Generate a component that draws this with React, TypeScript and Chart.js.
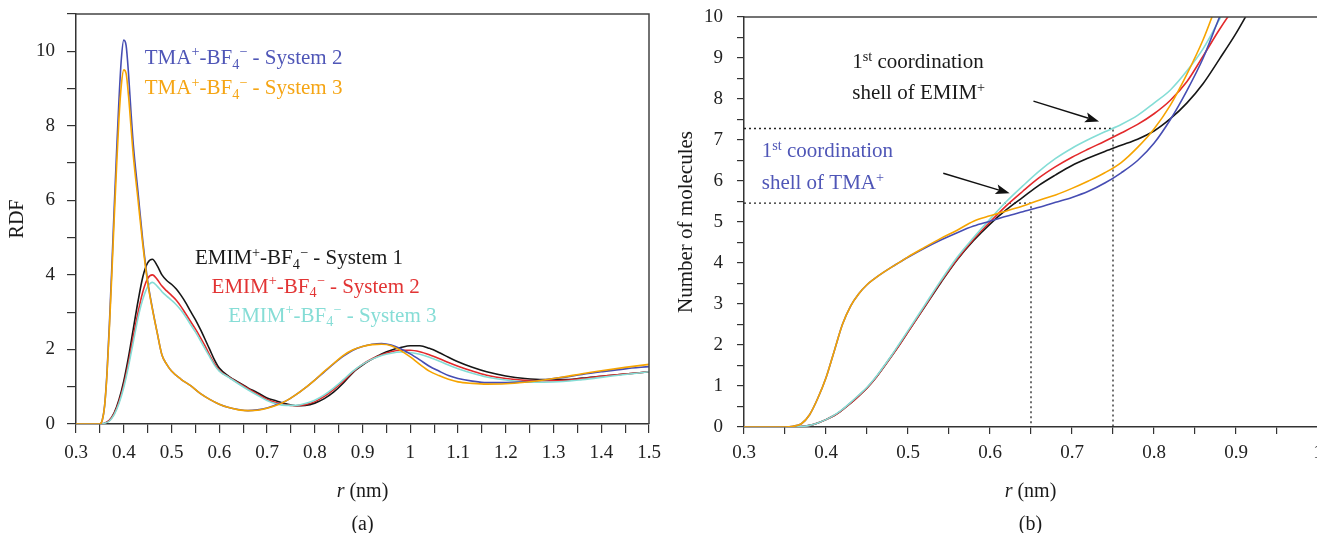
import React, { useEffect, useRef } from 'react';
import { Chart, registerables } from 'chart.js';

Chart.register(...registerables);

const SERIF = '"Liberation Serif", "Times New Roman", "DejaVu Serif", serif';

// ---------------- Panel (a): RDF ----------------
const rTma = [0.30, 0.35, 0.355, 0.36, 0.365, 0.37, 0.375, 0.38, 0.385, 0.39,
  0.395, 0.40, 0.405, 0.41, 0.415, 0.42, 0.43, 0.44, 0.45, 0.46,
  0.47, 0.48, 0.49, 0.50, 0.52, 0.54, 0.56, 0.58, 0.60, 0.62,
  0.64, 0.66, 0.68, 0.70, 0.72, 0.74, 0.76, 0.78, 0.80, 0.82,
  0.84, 0.86, 0.88, 0.90, 0.92, 0.94, 0.96, 0.98, 1.00, 1.02,
  1.04, 1.06, 1.08, 1.10, 1.13, 1.16, 1.20, 1.24, 1.28, 1.32,
  1.36, 1.40, 1.45, 1.50];
const rdfTmaSystem2 = [0, 0, 0.1, 0.5, 1.4, 2.7, 4.2, 5.8, 7.3, 8.7,
  9.8, 10.3, 10.15, 9.4, 8.4, 7.5, 6.2, 4.9, 3.85, 3.1,
  2.45, 1.85, 1.6, 1.42, 1.2, 1.03, 0.82, 0.66, 0.53, 0.44,
  0.39, 0.36, 0.38, 0.43, 0.52, 0.62, 0.78, 0.97, 1.18, 1.4,
  1.62, 1.82, 1.98, 2.08, 2.14, 2.16, 2.12, 2.02, 1.88, 1.72,
  1.55, 1.42, 1.3, 1.22, 1.15, 1.11, 1.11, 1.13, 1.18, 1.25,
  1.33, 1.4, 1.48, 1.54];
const rdfTmaSystem3 = [0, 0, 0.1, 0.5, 1.35, 2.6, 4.0, 5.5, 6.9, 8.2,
  9.1, 9.5, 9.4, 8.8, 8.0, 7.2, 6.0, 4.8, 3.8, 3.08,
  2.45, 1.85, 1.6, 1.42, 1.2, 1.03, 0.82, 0.66, 0.53, 0.44,
  0.38, 0.36, 0.37, 0.42, 0.5, 0.62, 0.78, 0.97, 1.18, 1.41,
  1.63, 1.84, 1.99, 2.08, 2.13, 2.14, 2.1, 1.97, 1.8, 1.6,
  1.42, 1.3, 1.2, 1.13, 1.09, 1.07, 1.08, 1.12, 1.18, 1.26,
  1.35, 1.43, 1.52, 1.6];

const rEmim = [0.30, 0.355, 0.36, 0.37, 0.38, 0.39, 0.40, 0.41, 0.42, 0.43,
  0.44, 0.45, 0.46, 0.47, 0.48, 0.49, 0.50, 0.51, 0.52, 0.53,
  0.54, 0.55, 0.56, 0.57, 0.58, 0.59, 0.60, 0.62, 0.64, 0.66,
  0.68, 0.70, 0.72, 0.74, 0.76, 0.78, 0.80, 0.82, 0.84, 0.86,
  0.88, 0.90, 0.92, 0.94, 0.96, 0.98, 1.00, 1.02, 1.04, 1.06,
  1.08, 1.10, 1.13, 1.16, 1.20, 1.24, 1.28, 1.32, 1.36, 1.40,
  1.45, 1.50];
const rdfEmimSystem1 = [0, 0, 0.02, 0.1, 0.3, 0.65, 1.15, 1.8, 2.55, 3.3,
  3.95, 4.32, 4.42, 4.25, 4.0, 3.85, 3.75, 3.62, 3.45, 3.25,
  3.02, 2.8, 2.55, 2.28, 2.0, 1.72, 1.5, 1.28, 1.12, 0.97,
  0.84, 0.7, 0.62, 0.54, 0.49, 0.5, 0.56, 0.68, 0.86, 1.1,
  1.38, 1.58, 1.74, 1.88, 1.98, 2.05, 2.1, 2.1, 2.03, 1.92,
  1.79, 1.67, 1.52, 1.4, 1.29, 1.22, 1.19, 1.19, 1.23, 1.28,
  1.34, 1.4];
const rdfEmimSystem2 = [0, 0, 0.02, 0.1, 0.28, 0.6, 1.05, 1.65, 2.35, 3.0,
  3.55, 3.9, 4.0, 3.88, 3.7, 3.57, 3.45, 3.32, 3.15, 2.95,
  2.75, 2.55, 2.33, 2.1, 1.85, 1.62, 1.44, 1.26, 1.1, 0.95,
  0.8, 0.66, 0.57, 0.51, 0.49, 0.52, 0.6, 0.74, 0.93, 1.15,
  1.4, 1.6, 1.75, 1.86, 1.94, 1.98, 1.98, 1.94, 1.86, 1.76,
  1.65, 1.55, 1.42, 1.31, 1.22, 1.17, 1.16, 1.17, 1.22, 1.28,
  1.34, 1.4];
const rdfEmimSystem3 = [0, 0, 0.02, 0.08, 0.25, 0.55, 0.98, 1.55, 2.2, 2.85,
  3.35, 3.68, 3.8, 3.7, 3.55, 3.43, 3.32, 3.2, 3.05, 2.87,
  2.67, 2.47, 2.25, 2.02, 1.8, 1.58, 1.42, 1.25, 1.08, 0.92,
  0.77, 0.63, 0.54, 0.5, 0.5, 0.55, 0.64, 0.78, 0.97, 1.19,
  1.42, 1.6, 1.74, 1.84, 1.9, 1.93, 1.92, 1.87, 1.79, 1.69,
  1.58, 1.48, 1.36, 1.26, 1.18, 1.13, 1.12, 1.14, 1.19, 1.25,
  1.33, 1.4];

// ---------------- Panel (b): number of molecules ----------------
const rCn = [0.30, 0.35, 0.36, 0.37, 0.38, 0.39, 0.40, 0.41, 0.42, 0.43,
  0.44, 0.45, 0.46, 0.47, 0.48, 0.49, 0.50, 0.52, 0.54, 0.56,
  0.58, 0.60, 0.62, 0.64, 0.66, 0.68, 0.70, 0.72, 0.74, 0.76,
  0.78, 0.80, 0.82, 0.84, 0.86, 0.88, 0.90, 0.92, 0.94];
const cnTmaSystem2 = [0, 0, 0.02, 0.08, 0.3, 0.7, 1.2, 1.85, 2.5, 2.95,
  3.25, 3.47, 3.63, 3.77, 3.9, 4.02, 4.14, 4.36, 4.56, 4.74,
  4.9, 5.02, 5.14, 5.25, 5.36, 5.48, 5.6, 5.75, 5.95, 6.2,
  6.5, 6.92, 7.5, 8.2, 9.0, 10.0, 10.9, null, null];
const cnTmaSystem3 = [0, 0, 0.02, 0.08, 0.3, 0.7, 1.2, 1.85, 2.5, 2.95,
  3.25, 3.47, 3.63, 3.77, 3.9, 4.02, 4.15, 4.38, 4.6, 4.8,
  5.02, 5.15, 5.27, 5.39, 5.53, 5.66, 5.82, 6.0, 6.2, 6.45,
  6.82, 7.27, 7.85, 8.6, 9.45, 10.5, null, null, null];
const cnEmimSystem1 = [0, 0, 0, 0.01, 0.04, 0.1, 0.18, 0.28, 0.42, 0.58,
  0.76, 0.95, 1.18, 1.45, 1.73, 2.02, 2.32, 2.92, 3.52, 4.08,
  4.55, 4.95, 5.3, 5.6, 5.9, 6.15, 6.38, 6.56, 6.72, 6.87,
  7.02, 7.22, 7.52, 7.9, 8.38, 8.98, 9.6, 10.3, null];
const cnEmimSystem2 = [0, 0, 0, 0.01, 0.04, 0.1, 0.18, 0.28, 0.42, 0.58,
  0.76, 0.95, 1.18, 1.45, 1.73, 2.02, 2.32, 2.93, 3.54, 4.1,
  4.58, 5.0, 5.4, 5.75, 6.08, 6.35, 6.58, 6.78, 6.97, 7.17,
  7.38, 7.64, 7.97, 8.42, 9.05, 9.7, 10.3, null, null];
const cnEmimSystem3 = [0, 0, 0, 0.01, 0.04, 0.1, 0.18, 0.29, 0.43, 0.6,
  0.78, 0.97, 1.2, 1.47, 1.75, 2.05, 2.35, 2.96, 3.57, 4.14,
  4.62, 5.07, 5.5, 5.88, 6.24, 6.55, 6.8, 7.01, 7.2, 7.38,
  7.6, 7.9, 8.22, 8.68, 9.23, 9.95, 10.7, null, null];

// first coordination shell markers: [r (nm), N]
const shellEmim = [0.75, 7.28];
const shellTma = [0.65, 5.46];

// axis ranges
const xRangeA = [0.3, 1.5];
const yRangeA = [0, 11];
const xRangeB = [0.3, 1.0];
const yRangeB = [0, 10];

const COLORS = {
  black: '#161616',
  red: '#e3292b',
  cyan: '#84ddd6',
  blue: '#464db3',
  orange: '#f6a400',
};
const TEXT_COLORS = {
  black: '#1a1a1a',
  red: '#e23434',
  cyan: '#86ddd6',
  blue: '#4f56b7',
  orange: '#f5a514',
};

type Seg = { t: string; k?: 'sup' | 'sub' | 'it' };

const toXY = (xs: number[], ys: (number | null)[]) => xs.map((x, i) => ({ x, y: ys[i] }));

function segFont(s: Seg, size: number) {
  const small = s.k === 'sup' || s.k === 'sub';
  const fs = small ? size * 0.68 : size;
  return `${s.k === 'it' ? 'italic ' : ''}${fs}px ${SERIF}`;
}

function richWidth(ctx: CanvasRenderingContext2D, segs: Seg[], size: number) {
  let w = 0;
  for (const s of segs) {
    ctx.font = segFont(s, size);
    w += ctx.measureText(s.t).width;
  }
  return w;
}

function drawRich(ctx: CanvasRenderingContext2D, segs: Seg[], x: number, y: number, size: number, color: string) {
  ctx.fillStyle = color;
  ctx.textAlign = 'left';
  ctx.textBaseline = 'alphabetic';
  let cx = x;
  for (const s of segs) {
    ctx.font = segFont(s, size);
    const dy = s.k === 'sup' ? -size * 0.36 : s.k === 'sub' ? size * 0.22 : 0;
    ctx.fillText(s.t, cx, y + dy);
    cx += ctx.measureText(s.t).width;
  }
}

function drawCentered(ctx: CanvasRenderingContext2D, segs: Seg[], cx: number, cy: number, size: number, color: string) {
  const w = richWidth(ctx, segs, size);
  drawRich(ctx, segs, cx - w / 2, cy + size * 0.33, size, color);
}

function drawRotated(ctx: CanvasRenderingContext2D, text: string, cx: number, cy: number, size: number) {
  ctx.save();
  ctx.translate(cx, cy);
  ctx.rotate(-Math.PI / 2);
  ctx.font = `${size}px ${SERIF}`;
  ctx.fillStyle = '#1a1a1a';
  ctx.textAlign = 'center';
  ctx.textBaseline = 'middle';
  ctx.fillText(text, 0, 0);
  ctx.restore();
}

function drawArrow(ctx: CanvasRenderingContext2D, x1: number, y1: number, x2: number, y2: number) {
  const a = Math.atan2(y2 - y1, x2 - x1);
  const L = 14;
  const W = 5;
  const bx = x2 - L * Math.cos(a);
  const by = y2 - L * Math.sin(a);
  ctx.strokeStyle = '#111';
  ctx.fillStyle = '#111';
  ctx.lineWidth = 1.4;
  ctx.beginPath();
  ctx.moveTo(x1, y1);
  ctx.lineTo(bx + 3 * Math.cos(a), by + 3 * Math.sin(a));
  ctx.stroke();
  ctx.beginPath();
  ctx.moveTo(x2, y2);
  ctx.lineTo(bx + W * Math.sin(a), by - W * Math.cos(a));
  ctx.lineTo(bx + 3 * Math.cos(a), by + 3 * Math.sin(a));
  ctx.lineTo(bx - W * Math.sin(a), by + W * Math.cos(a));
  ctx.closePath();
  ctx.fill();
}

const ionLabel = (cation: string, system: number): Seg[] => [
  { t: cation },
  { t: '+', k: 'sup' },
  { t: '-BF' },
  { t: '4', k: 'sub' },
  { t: '\u2212', k: 'sup' },
  { t: ` - System ${system}` },
];

const rLabel: Seg[] = [{ t: 'r', k: 'it' }, { t: ' (nm)' }];

const curve = (label: string, xs: number[], ys: (number | null)[], color: string) => ({
  label,
  data: toXY(xs, ys),
  borderColor: color,
  backgroundColor: color,
  borderWidth: 1.6,
  pointRadius: 0,
  cubicInterpolationMode: 'monotone' as const,
  fill: false,
  spanGaps: false,
});

const xTickLabel = (v: any) => {
  const t = Math.round(Number(v) * 100);
  return t % 10 === 0 ? String(t / 100) : '';
};

const axisCommon = (tickLen: number) => ({
  grid: { drawOnChartArea: false, drawTicks: true, tickLength: tickLen, color: '#333', lineWidth: 1.2 },
  border: { display: true, color: '#333', width: 1.5 },
});

const TICK_FONT = { family: SERIF, size: 19 };

const fixX = (h: number) => (s: any) => {
  s.height = h;
  s.paddingLeft = 0;
  s.paddingRight = 0;
};
const fixY = (w: number) => (s: any) => {
  s.width = w;
  s.paddingTop = 0;
  s.paddingBottom = 0;
};

export default function App() {
  const leftRef = useRef<HTMLCanvasElement>(null);
  const rightRef = useRef<HTMLCanvasElement>(null);

  useEffect(() => {
    const overlayA = {
      id: 'overlayA',
      afterDraw(chart: any) {
        const { ctx, chartArea: ca, scales } = chart;
        const sx = scales.x;
        const sy = scales.y;
        ctx.save();
        ctx.strokeStyle = '#444';
        ctx.lineWidth = 1.5;
        ctx.beginPath();
        ctx.moveTo(ca.left, ca.top);
        ctx.lineTo(ca.right, ca.top);
        ctx.lineTo(ca.right, ca.bottom);
        ctx.stroke();

        const labels: [Seg[], number, number, string][] = [
          [ionLabel('TMA', 2), 0.444, 9.66, TEXT_COLORS.blue],
          [ionLabel('TMA', 3), 0.444, 8.85, TEXT_COLORS.orange],
          [ionLabel('EMIM', 1), 0.549, 4.29, TEXT_COLORS.black],
          [ionLabel('EMIM', 2), 0.584, 3.52, TEXT_COLORS.red],
          [ionLabel('EMIM', 3), 0.619, 2.74, TEXT_COLORS.cyan],
        ];
        for (const [segs, r, g, c] of labels) {
          drawRich(ctx, segs, sx.getPixelForValue(r), sy.getPixelForValue(g), 21, c);
        }

        drawRotated(ctx, 'RDF', 18, (ca.top + ca.bottom) / 2, 20);
        const cx = (ca.left + ca.right) / 2;
        drawCentered(ctx, rLabel, cx, 490, 20, '#1a1a1a');
        drawCentered(ctx, [{ t: '(a)' }], cx, 523, 20, '#1a1a1a');
        ctx.restore();
      },
    };

    const overlayB = {
      id: 'overlayB',
      afterDraw(chart: any) {
        const { ctx, chartArea: ca, scales } = chart;
        const sx = scales.x;
        const sy = scales.y;
        ctx.save();
        ctx.strokeStyle = '#444';
        ctx.lineWidth = 1.5;
        ctx.beginPath();
        ctx.moveTo(ca.left, ca.top);
        ctx.lineTo(ca.right + 30, ca.top);
        ctx.stroke();

        const first: Seg[] = [{ t: '1' }, { t: 'st', k: 'sup' }, { t: ' coordination' }];
        drawRich(ctx, first, sx.getPixelForValue(0.432), sy.getPixelForValue(8.75), 21, TEXT_COLORS.black);
        drawRich(ctx, [{ t: 'shell of EMIM' }, { t: '+', k: 'sup' }], sx.getPixelForValue(0.432), sy.getPixelForValue(7.99), 21, TEXT_COLORS.black);
        drawRich(ctx, first, sx.getPixelForValue(0.3216), sy.getPixelForValue(6.58), 21, TEXT_COLORS.blue);
        drawRich(ctx, [{ t: 'shell of TMA' }, { t: '+', k: 'sup' }], sx.getPixelForValue(0.3216), sy.getPixelForValue(5.8), 21, TEXT_COLORS.blue);

        drawArrow(ctx, sx.getPixelForValue(0.653), sy.getPixelForValue(7.95), sx.getPixelForValue(0.733), sy.getPixelForValue(7.45));
        drawArrow(ctx, sx.getPixelForValue(0.543), sy.getPixelForValue(6.19), sx.getPixelForValue(0.624), sy.getPixelForValue(5.7));

        drawRotated(ctx, 'Number of molecules', 686, (ca.top + ca.bottom) / 2, 21);
        const cx = (ca.left + 1317) / 2;
        drawCentered(ctx, rLabel, cx, 490, 20, '#1a1a1a');
        drawCentered(ctx, [{ t: '(b)' }], cx, 523, 20, '#1a1a1a');
        ctx.restore();
      },
    };

    const chartA = new Chart(leftRef.current as HTMLCanvasElement, {
      type: 'line',
      data: {
        datasets: [
          curve('TMA+-BF4- - System 3', rTma, rdfTmaSystem3, COLORS.orange),
          curve('TMA+-BF4- - System 2', rTma, rdfTmaSystem2, COLORS.blue),
          curve('EMIM+-BF4- - System 3', rEmim, rdfEmimSystem3, COLORS.cyan),
          curve('EMIM+-BF4- - System 2', rEmim, rdfEmimSystem2, COLORS.red),
          curve('EMIM+-BF4- - System 1', rEmim, rdfEmimSystem1, COLORS.black),
        ] as any,
      },
      options: {
        responsive: false,
        maintainAspectRatio: false,
        animation: false,
        events: [],
        layout: { padding: { left: 0, top: 14, right: 1317 - 649, bottom: 0 } },
        plugins: { legend: { display: false }, tooltip: { enabled: false }, title: { display: false } },
        scales: {
          x: {
            type: 'linear',
            min: xRangeA[0],
            max: xRangeA[1],
            ...axisCommon(9),
            ticks: { stepSize: 0.05, autoSkip: false, maxRotation: 0, maxTicksLimit: 100, padding: 9, color: '#222', font: TICK_FONT, callback: xTickLabel },
            afterFit: fixX(533 - 424),
          },
          y: {
            type: 'linear',
            min: yRangeA[0],
            max: yRangeA[1],
            ...axisCommon(9),
            ticks: {
              stepSize: 1, autoSkip: false, maxTicksLimit: 100, padding: 12, color: '#222', font: TICK_FONT,
              callback: (v: any) => { const n = Math.round(Number(v)); return n % 2 === 0 ? String(n) : ''; },
            },
            afterFit: fixY(76),
          },
        },
      } as any,
      plugins: [overlayA],
    });

    const dotted = (label: string, pt: number[]) => ({
      label,
      data: [
        { x: xRangeB[0], y: pt[1] },
        { x: pt[0], y: pt[1] },
        { x: pt[0], y: yRangeB[0] },
      ],
      borderColor: '#222',
      borderWidth: 1.3,
      borderDash: [2, 3],
      pointRadius: 0,
      tension: 0,
      fill: false,
    });

    const chartB = new Chart(rightRef.current as HTMLCanvasElement, {
      type: 'line',
      data: {
        datasets: [
          curve('TMA+ - System 3', rCn, cnTmaSystem3, COLORS.orange),
          curve('TMA+ - System 2', rCn, cnTmaSystem2, COLORS.blue),
          curve('EMIM+ - System 3', rCn, cnEmimSystem3, COLORS.cyan),
          curve('EMIM+ - System 2', rCn, cnEmimSystem2, COLORS.red),
          curve('EMIM+ - System 1', rCn, cnEmimSystem1, COLORS.black),
          dotted('shell EMIM', shellEmim),
          dotted('shell TMA', shellTma),
        ] as any,
      },
      options: {
        responsive: false,
        maintainAspectRatio: false,
        animation: false,
        events: [],
        layout: { padding: { left: 0, top: 17, right: 1340 - 1318, bottom: 0 } },
        plugins: { legend: { display: false }, tooltip: { enabled: false }, title: { display: false } },
        scales: {
          x: {
            type: 'linear',
            min: xRangeB[0],
            max: xRangeB[1],
            ...axisCommon(7),
            ticks: { stepSize: 0.05, autoSkip: false, maxRotation: 0, maxTicksLimit: 100, padding: 8, color: '#222', font: TICK_FONT, callback: xTickLabel },
            afterFit: fixX(533 - 427),
          },
          y: {
            type: 'linear',
            min: yRangeB[0],
            max: yRangeB[1],
            ...axisCommon(7),
            ticks: {
              stepSize: 0.5, autoSkip: false, maxTicksLimit: 100, padding: 14, color: '#222', font: TICK_FONT,
              callback: (v: any) => { const n = Math.round(Number(v) * 10) / 10; return Number.isInteger(n) ? String(n) : ''; },
            },
            afterFit: fixY(744),
          },
        },
      } as any,
      plugins: [overlayB],
    });

    return () => {
      chartA.destroy();
      chartB.destroy();
    };
  }, []);

  return (
    <div style={{ position: 'fixed', left: 0, top: 0, width: 1317, height: 533, overflow: 'hidden', background: '#fff' }}>
      <canvas ref={leftRef} width={1317} height={533} style={{ position: 'absolute', left: 0, top: 0, width: 1317, height: 533 }} />
      <canvas ref={rightRef} width={1340} height={533} style={{ position: 'absolute', left: 0, top: 0, width: 1340, height: 533 }} />
    </div>
  );
}
